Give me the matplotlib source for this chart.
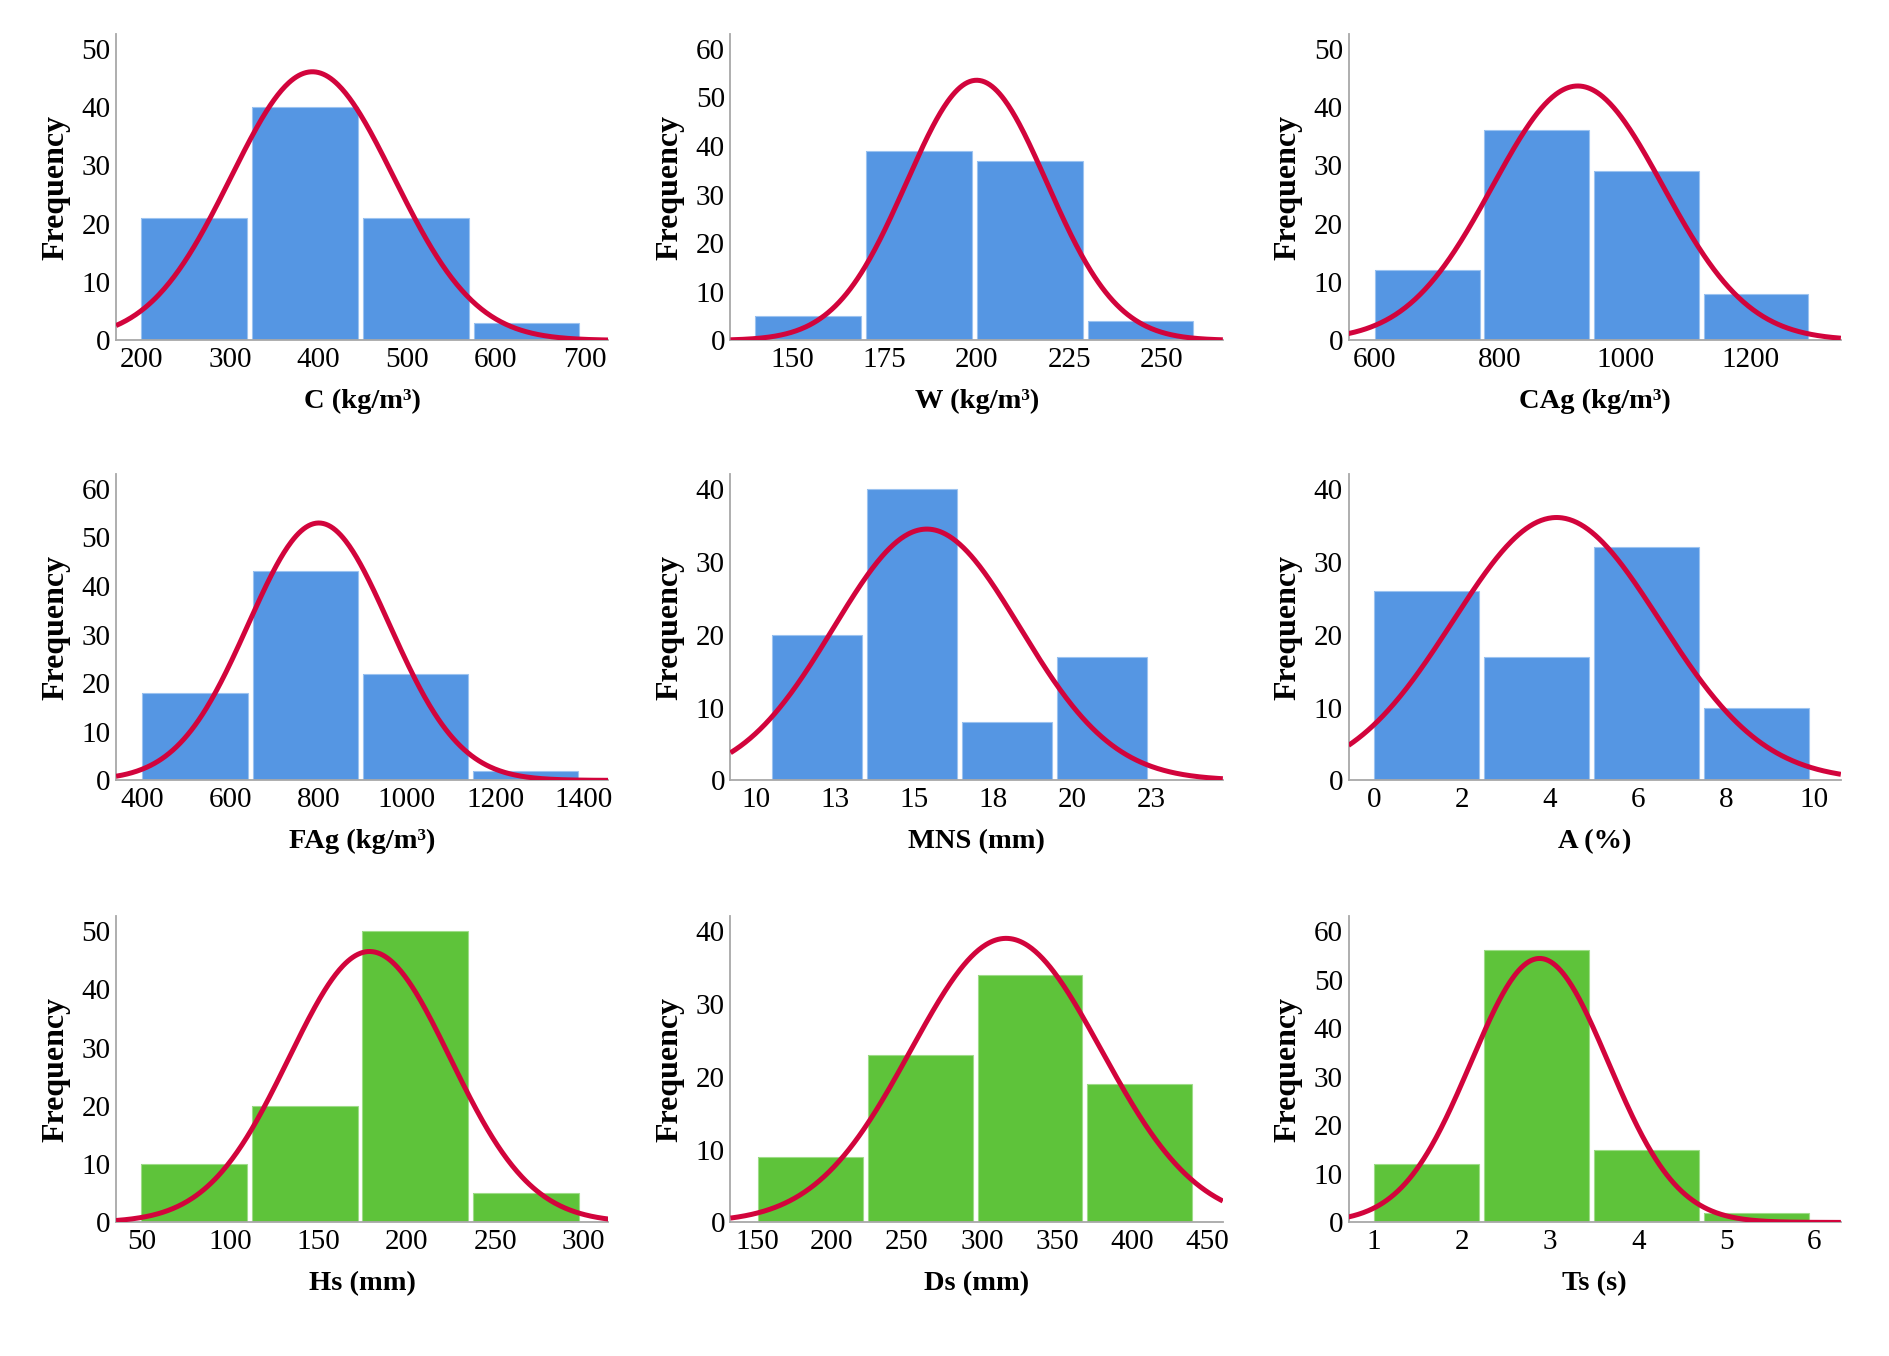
import numpy as np
import matplotlib
matplotlib.use("Agg")
import matplotlib.pyplot as plt

plt.rcParams['font.family'] = ['Liberation Serif', 'DejaVu Serif']

BLUE = '#5596E3'
GREEN = '#5EC33A'
RED = '#D2043C'

# variable names / axis titles
labels = ['C (kg/m³)', 'W (kg/m³)', 'CAg (kg/m³)',
          'FAg (kg/m³)', 'MNS (mm)', 'A (%)',
          'Hs (mm)', 'Ds (mm)', 'Ts (s)']

# histogram bin edges
c_bins = [200, 325, 450, 575, 700]
w_bins = [140, 170, 200, 230, 260]
cag_bins = [600, 775, 950, 1125, 1300]
fag_bins = [400, 650, 900, 1150, 1400]
mns_bins = [10.5, 13.5, 16.5, 19.5, 22.5]
a_bins = [0, 2.5, 5, 7.5, 10]
hs_bins = [50, 112.5, 175, 237.5, 300]
ds_bins = [151, 224, 297, 370, 443]
ts_bins = [1, 2.25, 3.5, 4.75, 6]

# counts per bin
c_counts = [21, 40, 21, 3]
w_counts = [5, 39, 37, 4]
cag_counts = [12, 36, 29, 8]
fag_counts = [18, 43, 22, 2]
mns_counts = [20, 40, 8, 17]
a_counts = [26, 17, 32, 10]
hs_counts = [10, 20, 50, 5]
ds_counts = [9, 23, 34, 19]
ts_counts = [12, 56, 15, 2]

# normal fit (mean, std) estimated from the curves
means = [393, 200, 924, 800, 15.4, 4.15, 179, 316, 2.88]
stds = [92, 19.0, 136, 160, 2.95, 2.35, 45.6, 63.5, 0.78]

# axis ranges and ticks
xlims = [(171.5, 727), (133.4, 266.6), (558, 1344),
         (340, 1457), (9.2, 24.75), (-0.57, 10.6),
         (35.7, 314), (132.4, 460.4), (0.71, 6.3)]
xticks = [[200, 300, 400, 500, 600, 700],
          [150, 175, 200, 225, 250],
          [600, 800, 1000, 1200],
          [400, 600, 800, 1000, 1200, 1400],
          [10, 12.5, 15, 17.5, 20, 22.5],
          [0, 2, 4, 6, 8, 10],
          [50, 100, 150, 200, 250, 300],
          [150, 200, 250, 300, 350, 400, 450],
          [1, 2, 3, 4, 5, 6]]
xticklabels = [None, None, None, None,
               ['10', '13', '15', '18', '20', '23'],
               None, None, None, None]
ymax = [50, 60, 50, 60, 40, 40, 50, 40, 60]

bins_all = [c_bins, w_bins, cag_bins, fag_bins, mns_bins, a_bins, hs_bins, ds_bins, ts_bins]
counts_all = [c_counts, w_counts, cag_counts, fag_counts, mns_counts, a_counts,
              hs_counts, ds_counts, ts_counts]
colors = [BLUE] * 6 + [GREEN] * 3

fig = plt.figure(figsize=(18.9, 13.56), dpi=100)
lefts = [0.0614, 0.3865, 0.7135]
bottoms = [0.749, 0.4245, 0.0985]
W, H = 0.2605, 0.2257

for k in range(9):
    r, c = divmod(k, 3)
    ax = fig.add_axes([lefts[c], bottoms[r], W, H])
    edges = np.array(bins_all[k], dtype=float)
    bw = edges[1] - edges[0]
    ax.bar(edges[:-1], counts_all[k], width=bw * 0.955, align='edge',
           color=colors[k], linewidth=0.0, zorder=2)
    ax.bar(edges[:-1], counts_all[k], width=bw * 0.955, align='edge',
           facecolor='none', edgecolor='#9CC3F0' if colors[k] == BLUE else '#9EDC88',
           linewidth=0.8, zorder=2)

    x0, x1 = xlims[k]
    xs = np.linspace(x0, x1, 400)
    n = sum(counts_all[k])
    ys = n * bw / (stds[k] * np.sqrt(2 * np.pi)) * np.exp(-0.5 * ((xs - means[k]) / stds[k]) ** 2)
    ax.plot(xs, ys, color=RED, lw=3.6, zorder=3, solid_capstyle='butt')

    ax.set_xlim(x0, x1)
    ax.set_ylim(0, ymax[k] * 1.05)
    ax.set_xticks(xticks[k])
    if xticklabels[k] is not None:
        ax.set_xticklabels(xticklabels[k])
    ax.set_yticks(np.arange(0, ymax[k] + 1, 10))
    ax.tick_params(length=0, labelsize=21, pad=5)
    ax.tick_params(axis='y', pad=4)
    for s in ['top', 'right']:
        ax.spines[s].set_visible(False)
    for s in ['left', 'bottom']:
        ax.spines[s].set_color('#A8A8A8')
        ax.spines[s].set_linewidth(1.3)
    ax.set_xlabel(labels[k], fontsize=20.5, fontweight='bold', labelpad=11)
    ax.set_ylabel('Frequency', fontsize=23, fontweight='bold', labelpad=8)

fig.savefig('out.png', dpi=100, facecolor='white')
